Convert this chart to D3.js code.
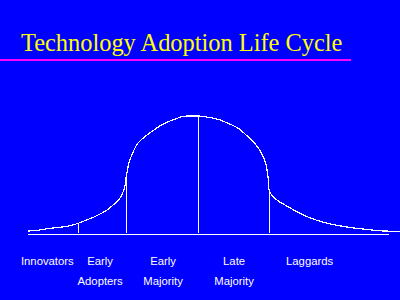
<!DOCTYPE html>
<html>
<head>
<meta charset="utf-8">
<script src="https://cdn.jsdelivr.net/npm/d3@7"></script>
<style>
  html, body { margin: 0; padding: 0; background: #0000ff; }
  svg { display: block; }
</style>
</head>
<body>
<svg id="vimage" width="400" height="300"></svg>
<script>
// adoption curve, time (0-100) vs share of adopters (0-100)
var curveX = [0, 3.2, 5.9, 8.6, 11.3, 13.5, 15.8, 18.5, 21.2, 22.9, 24.3, 25.2, 26.1, 26.3, 26.5, 27.0, 27.4, 28.3, 29.2, 30.6,
              32.3, 34.1, 35.9, 37.7, 39.5, 41.3, 43.1, 45.7, 48.4, 51.1, 53.8, 56.5, 59.1, 60.9, 62.3, 63.2, 64.1, 64.5,
              64.7, 64.8, 65.5, 66.9, 69.1, 71.8, 75.4, 79.8, 85.2, 90.6, 96.0, 100];
var curveY = [2.5, 3.4, 4.8, 5.7, 7.0, 9.1, 11.9, 15.5, 20.3, 24.6, 28.8, 33.1, 41.5, 47.5, 50.0, 58.5, 62.7, 69.7, 75.4, 80.3,
              84.7, 88.7, 92.4, 95.2, 97.2, 99.4, 100, 100, 98.9, 97.2, 93.8, 89.6, 82.5, 76.9, 71.2, 65.5, 57.0, 48.6,
              42.4, 37.3, 33.1, 28.8, 24.6, 19.7, 14.2, 9.6, 6.2, 4.0, 2.5, 2.3];

// segment boundaries
var dividers = [13.4, 26.3, 45.6, 64.8];

var groups = [["Innovators"], ["Early", "Adopters"], ["Early", "Majority"], ["Late", "Majority"], ["Laggards"]];
var groupAt = [5.2, 19.4, 36.3, 55.4, 75.7];

var title = "Technology Adoption Life Cycle";

var svg = d3.select("#vimage");

var x = d3.scaleLinear().domain([0, 100]).range([28, 400]);
var y = d3.scaleLinear().domain([0, 100]).range([234, 116]);

svg.append("rect")
	.attr("width", 400)
	.attr("height", 300)
	.attr("fill", "#0000ff");

// title + underline
svg.append("text")
	.attr("x", 21)
	.attr("y", 51)
	.attr("fill", "#ffff00")
	.style("font-family", "'Liberation Serif', 'Times New Roman', serif")
	.style("font-size", "24.4px")
	.text(title);

svg.append("rect")
	.attr("x", 0)
	.attr("y", 59)
	.attr("width", 351)
	.attr("height", 2)
	.attr("fill", "#ff00ff");

var pts = curveX.map(function(d, i) { return [d, curveY[i]]; });

function curveAt(v){
	for (var i = 1; i < curveX.length; i++){
		if (curveX[i] >= v){
			var t = (v - curveX[i-1]) / (curveX[i] - curveX[i-1]);
			return curveY[i-1] + t * (curveY[i] - curveY[i-1]);
		}
	}
	return curveY[curveY.length - 1];
}

// baseline
svg.append("line")
	.attr("x1", x(0))
	.attr("x2", x(97))
	.attr("y1", y(0) + 0.5)
	.attr("y2", y(0) + 0.5)
	.attr("stroke", "white")
	.attr("shape-rendering", "crispEdges");

svg.selectAll(".divider")
	.data(dividers)
	.enter()
	.append("line")
	.attr("class", "divider")
	.attr("x1", function(d) { return Math.round(x(d)) + 0.5; })
	.attr("x2", function(d) { return Math.round(x(d)) + 0.5; })
	.attr("y1", function(d) { return y(curveAt(d)); })
	.attr("y2", y(0) - 1)
	.attr("stroke", "white")
	.attr("shape-rendering", "crispEdges");

var line = d3.line()
	.x(function(d) { return x(d[0]); })
	.y(function(d) { return y(d[1]); })
	.curve(d3.curveMonotoneX);

svg.append("path")
	.datum(pts)
	.attr("d", line)
	.attr("fill", "none")
	.attr("stroke", "white")
	.attr("stroke-width", 1.2)
	.attr("shape-rendering", "crispEdges");

// group labels
var lbl = svg.selectAll(".lbl")
	.data(groups)
	.enter()
	.append("text")
	.attr("class", "lbl")
	.attr("text-anchor", "middle")
	.attr("fill", "white")
	.style("font-family", "'Liberation Sans', Arial, sans-serif")
	.style("font-size", "11.3px");

lbl.selectAll("tspan")
	.data(function(d, i) { return d.map(function(s) { return {s: s, i: i}; }); })
	.enter()
	.append("tspan")
	.attr("x", function(d) { return x(groupAt[d.i]); })
	.attr("y", function(d, j) { return 265 + j * 19.5; })
	.text(function(d) { return d.s; });
</script>
</body>
</html>
